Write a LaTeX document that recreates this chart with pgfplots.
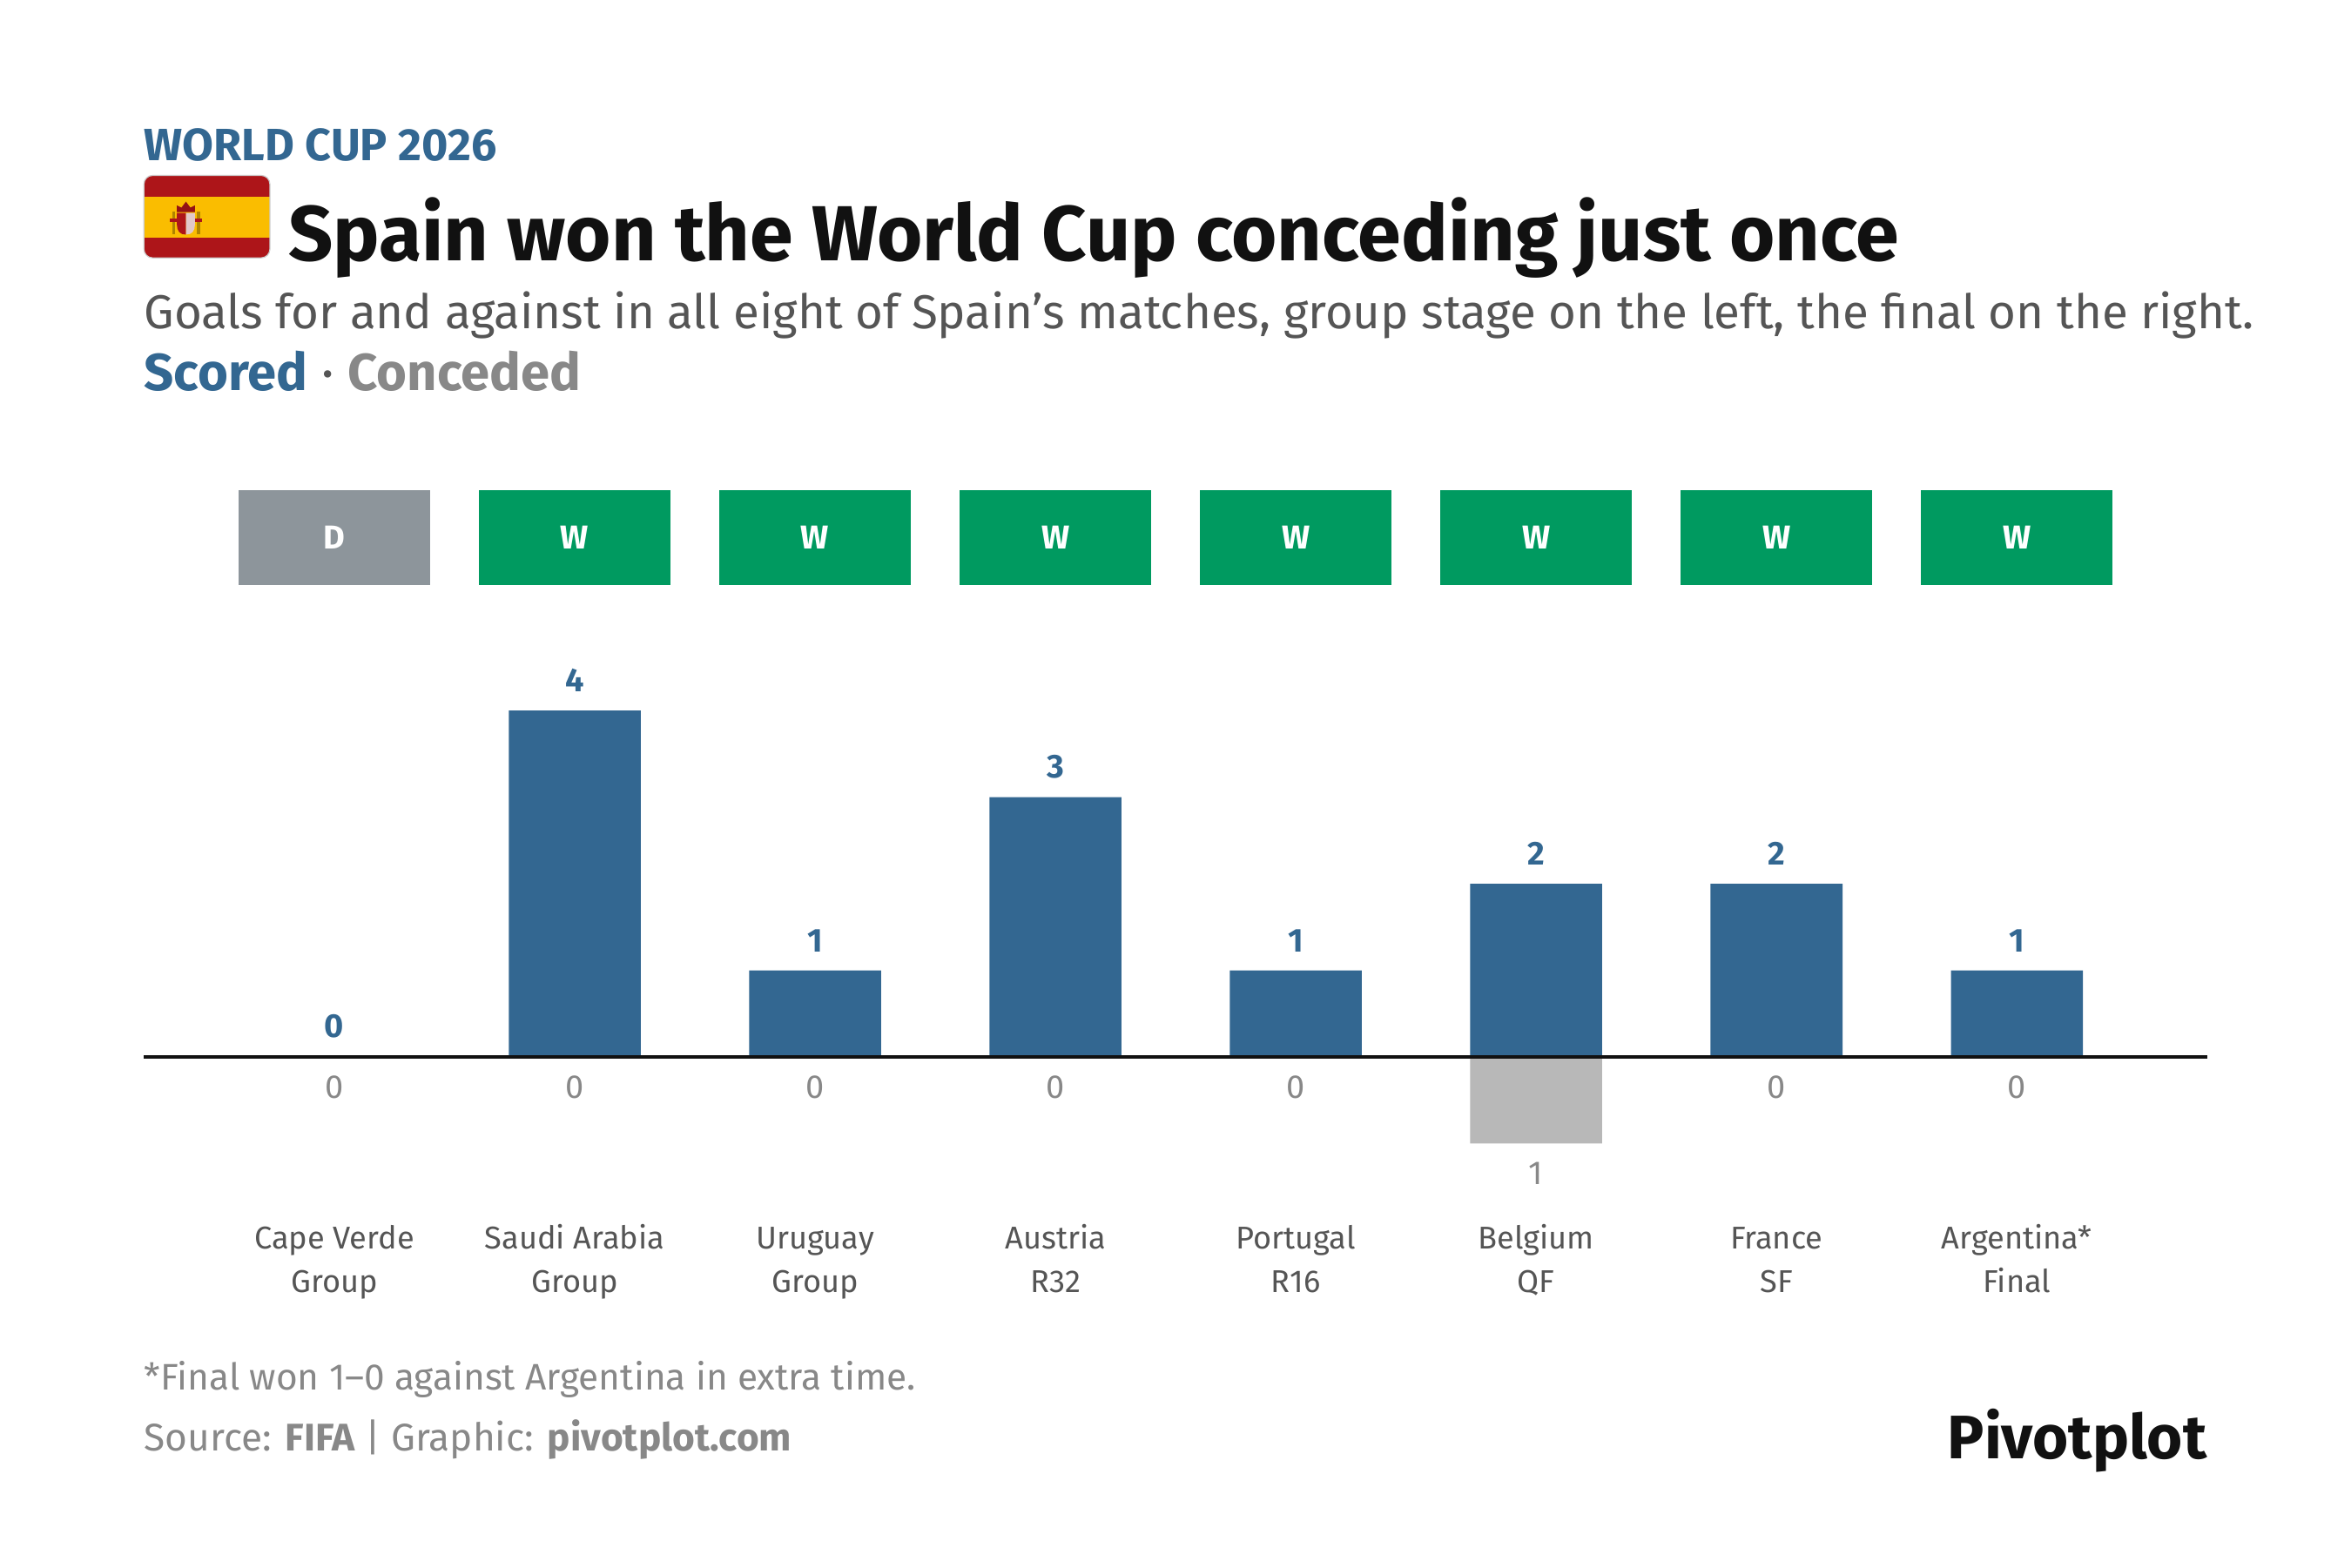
\documentclass[border=0pt]{standalone}
\usepackage{pgfplots}
\pgfplotsset{compat=1.18}
\usepackage{fontspec}
\setmainfont{Fira Sans}
\definecolor{blue}{HTML}{336791}
\definecolor{lgray}{HTML}{B8B8B8}
\definecolor{win}{HTML}{009A60}
\definecolor{draw}{HTML}{8D959B}
\definecolor{ink}{HTML}{111111}
\definecolor{tgray}{HTML}{555555}
\definecolor{mgray}{HTML}{888888}
\definecolor{fred}{HTML}{AD1519}
\definecolor{fyel}{HTML}{FABD00}
\newcommand{\fs}[1]{\fontsize{#1}{#1}\selectfont}
\newcommand{\tl}[2]{\strut #1\\\strut #2}
\begin{document}
\begin{tikzpicture}[x=0.860969pt,y=-0.860969pt]
\path[fill=white] (0,0) rectangle (1568,1045.33);
\coordinate (A) at (96,791.625);
% header
\node[anchor=base west,inner sep=0,text=blue,font=\fs{26}\bfseries] at (96,107) {WORLD CUP 2026};
\begin{scope}
\clip[rounded corners=5] (96,117) rectangle (180,172);
\fill[fred] (96,117) rectangle (180,172);
\fill[fyel] (96,131) rectangle (180,158.5);
% emblem
\fill[fred!85!black] (118,141.5) -- (118,137) -- (121,138.5) -- (124,134.5) -- (127,138.5) -- (130,137) -- (130,141.5) -- cycle;
\fill[fred] (118,142) -- (124,142) -- (124,156.5) .. controls (120,156.5) and (118,154) .. (118,150) -- cycle;
\fill[lgray!60!fred!40!white] (124,142) -- (130,142) -- (130,150) .. controls (130,154) and (128,156.5) .. (124,156.5) -- cycle;
\fill[fyel!70!black] (114.7,141) rectangle (117,156);
\fill[fyel!70!black] (131.2,141) rectangle (133.5,156);
\fill[fred] (113.5,146) rectangle (118,148);
\fill[fred] (130,146) rectangle (134.5,148);
\end{scope}
\draw[lgray!70,line width=0.6pt,rounded corners=5] (96,117) rectangle (180,172);
\node[anchor=base west,inner sep=0,text=ink,font=\fs{44.85}\bfseries] at (192,174) {Spain won the World Cup conceding just once};
\node[anchor=base west,inner sep=0,text=tgray,font=\fs{27.34}] at (96,219.5) {Goals for and against in all eight of Spain’s matches, group stage on the left, the final on the right.};
\node[anchor=base west,inner sep=0,font=\fs{29.9}\bfseries] at (96,260.5) {\textcolor{blue}{Scored}\textcolor{tgray}{\mdseries\ ·\ }\textcolor{mgray}{Conceded}};
% chart
\begin{axis}[
  at={(A)},anchor=south west,
  scale only axis,width=1184.7pt,height=402.74pt,
  xmin=-0.7923,xmax=7.7916,ymin=-1.5,ymax=6.6,
  clip=false,
  axis line style={draw=none},
  ytick=\empty,
  xtick={0,1,2,3,4,5,6,7},
  xticklabels={{\tl{Cape Verde}{Group}},{\tl{Saudi Arabia}{Group}},{\tl{Uruguay}{Group}},{\tl{Austria}{R32}},{\tl{Portugal}{R16}},{\tl{Belgium}{QF}},{\tl{France}{SF}},{\tl{Argentina*}{Final}}},
  major tick length=0pt,
  xticklabel style={align=center,text=tgray,font=\fontsize{18.1}{25}\selectfont,yshift=-14.6pt},
]
% goals scored
\addplot[ybar,bar width=75.76pt,bar shift=0pt,fill=blue,draw=none,
  point meta=explicit symbolic,nodes near coords,
  every node near coord/.append style={anchor=south,inner sep=0pt,yshift=10.5pt,text=blue,font=\fs{19}\bfseries}]
  coordinates {(0,0)[0] (1,4)[4] (2,1)[1] (3,3)[3] (4,1)[1] (5,2)[2] (6,2)[2] (7,1)[1]};
% goals conceded
\addplot[ybar,bar width=75.76pt,bar shift=0pt,fill=lgray,draw=none,
  point meta=explicit symbolic,nodes near coords,
  every node near coord/.append style={anchor=north,inner sep=0pt,yshift=-10.5pt,text=mgray,font=\fs{19}}]
  coordinates {(0,0)[0] (1,0)[0] (2,0)[0] (3,0)[0] (4,0)[0] (5,-1)[1] (6,0)[0] (7,0)[0]};
% results
\addplot[draw=none,mark=none,point meta=explicit symbolic,nodes near coords,
  every node near coord/.append style={anchor=center,inner sep=0pt,yshift=0pt,minimum width=110.2pt,minimum height=54.7pt,fill=win,text=white,font=\fs{19}\bfseries}]
  coordinates {(1,6)[W] (2,6)[W] (3,6)[W] (4,6)[W] (5,6)[W] (6,6)[W] (7,6)[W]};
\addplot[draw=none,mark=none,point meta=explicit symbolic,nodes near coords,
  every node near coord/.append style={anchor=center,inner sep=0pt,yshift=0pt,minimum width=110.2pt,minimum height=54.7pt,fill=draw,text=white,font=\fs{19}\bfseries}]
  coordinates {(0,6)[D]};
% zero line
\addplot[ink,line width=1.9pt] coordinates {(-0.7923,0) (7.7916,0)};
\end{axis}
% footer
\node[anchor=base west,inner sep=0,text=mgray,font=\fs{21.2}] at (96,927) {*Final won 1–0 against Argentina in extra time.};
\node[anchor=base west,inner sep=0,text=mgray,font=\fs{22.1}] at (96,968) {Source: \textbf{FIFA} | Graphic: \textbf{pivotplot.com}};
\node[anchor=base east,inner sep=0,text=ink,font=\fs{35.3}\bfseries] at (1472,973) {Pivotplot};
\end{tikzpicture}
\end{document}
